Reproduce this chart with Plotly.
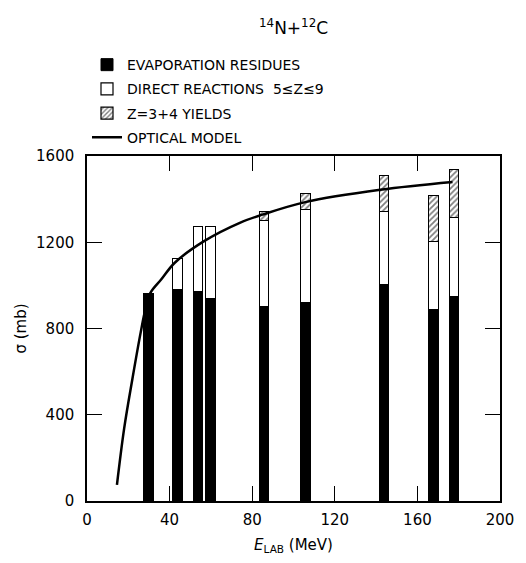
import plotly.graph_objects as go

# Bar energies (MeV) and cross sections (mb)
energies = [30, 44, 54, 60, 86, 106, 144, 168, 178]
evap = [960, 978, 970, 936, 898, 918, 1000, 887, 944]
direct = [0, 146, 300, 334, 399, 430, 340, 316, 369]
z34 = [0, 0, 0, 0, 43, 75, 168, 213, 222]

# Optical model curve
om_e = [14.5, 18, 22, 26, 28.3, 30.7, 36, 42.5, 56.7, 74, 85, 105.7, 142, 177]
om_s = [75, 337, 567, 782, 890, 965, 1028, 1105, 1205, 1290, 1328, 1386, 1443, 1479]

FONT = "DejaVu Sans"
BW = 4.7

fig = go.Figure()
fig.add_trace(go.Bar(x=energies, y=evap, width=BW, name="EVAPORATION RESIDUES",
                     legendgroup="a",
                     marker=dict(color="black", line=dict(color="black", width=1))))
fig.add_trace(go.Bar(x=energies, y=direct, width=BW, name="DIRECT REACTIONS  5≤Z≤9",
                     legendgroup="b",
                     marker=dict(color="white", line=dict(color="black", width=1.2))))
fig.add_trace(go.Bar(x=energies, y=z34, width=BW, name="Z=3+4 YIELDS",
                     legendgroup="c",
                     marker=dict(color="white", line=dict(color="black", width=1.2),
                                 pattern=dict(shape="/", fgcolor="black", bgcolor="white",
                                              size=4, solidity=0.45))))
fig.add_trace(go.Scatter(x=om_e, y=om_s, mode="lines", name="OPTICAL MODEL",
                         legendgroup="d", line=dict(color="black", width=2.5, shape="spline")))

axis_common = dict(showline=True, linecolor="black", linewidth=1.5, mirror="ticks",
                   ticks="inside", ticklen=15, tickwidth=1.2, tickcolor="black",
                   showgrid=False, zeroline=False,
                   tickfont=dict(family=FONT, size=15, color="black"))

fig.update_layout(
    width=526, height=563, autosize=False,
    margin=dict(l=87, r=18, t=156, b=60),
    paper_bgcolor="white", plot_bgcolor="white",
    barmode="stack", bargap=0,
    font=dict(family=FONT, color="black"),
    xaxis=dict(range=[0, 200], tickvals=[0, 40, 80, 120, 160, 200],
               title=dict(text="<i>E</i><sub>LAB</sub> (MeV)", font=dict(family=FONT, size=15),
                          standoff=12),
               ticklabelstandoff=4,
               **axis_common),
    yaxis=dict(range=[0, 1600], tickvals=[0, 400, 800, 1200, 1600],
               title=dict(text="σ (mb)", font=dict(family=FONT, size=15), standoff=6),
               ticklabelstandoff=8,
               **axis_common),
    legend=dict(x=0.0, y=1.31, xanchor="left", yanchor="top",
                traceorder="grouped", tracegroupgap=3,
                font=dict(family=FONT, size=14, color="black"),
                bgcolor="rgba(0,0,0,0)", itemwidth=30),
    showlegend=True,
    annotations=[dict(text="<sup>14</sup>N+<sup>12</sup>C", x=0.5, y=1.375,
                      xref="paper", yref="paper", showarrow=False,
                      xanchor="center", yanchor="middle",
                      font=dict(family=FONT, size=17, color="black"))],
)

fig.write_html("out.html")
